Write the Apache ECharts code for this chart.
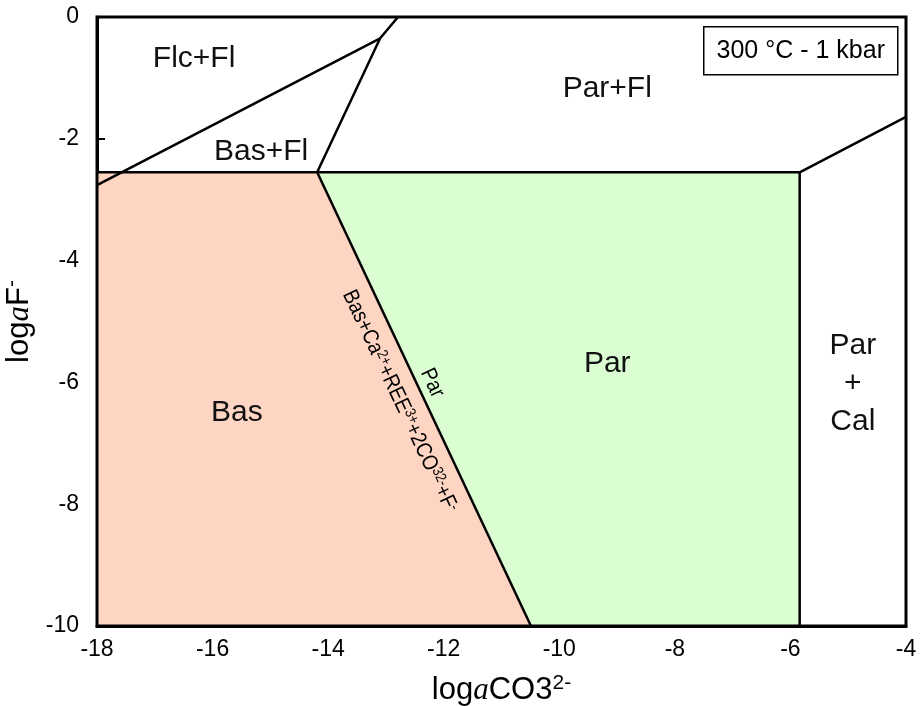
<!DOCTYPE html>
<html>
<head>
<meta charset="utf-8">
<script src="https://cdn.jsdelivr.net/npm/echarts@6/dist/echarts.min.js"></script>
<style>
  html, body { margin: 0; padding: 0; background: #fff; }
  #chart { width: 920px; height: 706px; }
</style>
</head>
<body>
<div id="chart"></div>
<script>
// Activity diagram: log aF- versus log aCO3(2-), 300 °C and 1 kbar

const xTicks = [-18, -16, -14, -12, -10, -8, -6, -4];
const yTicks = [0, -2, -4, -6, -8, -10];

// Stability fields (polygons in log-activity space)
const basField = [[-18, -2.55], [-14.19, -2.55], [-10.49, -10], [-18, -10]];
const parField = [[-14.19, -2.55], [-5.84, -2.55], [-5.84, -10], [-10.49, -10]];

// Phase boundaries
const fluoriteLine = [[-18, -2.55], [-5.84, -2.55]];
const parCalLine = [[-5.84, -10], [-5.84, -2.55], [-4, -1.64]];
const basParLine = [[-14.19, -2.55], [-10.49, -10]];
const basFlParFlLine = [[-14.19, -2.55], [-13.10, -0.35], [-12.79, 0]];
const flcBasLine = [[-18, -2.76], [-13.10, -0.35]];

// Field names and where they sit
const fieldNames = ['Flc+Fl', 'Bas+Fl', 'Par+Fl', 'Par', 'Bas', 'Par\n+\nCal'];
const fieldLabelAt = [[-16.32, -0.69], [-15.16, -2.22], [-9.17, -1.18], [-9.17, -5.70], [-15.58, -6.50], [-4.92, -6.03]];

// Reaction written along the Bas / Par boundary
const reactionLeft = '{n|Bas+Ca}{s|2+}{n|+REE}{s|3+}{n|+2CO}{s|32-}{n|+F}{s|-}';
const reactionRight = '{n|Par}';
const reactionLeftAt = [-12.76, -6.31];
const reactionRightAt = [-12.20, -6.01];

const FONT = '"Liberation Sans", Arial, sans-serif';

function polygonSeries(points, color) {
  return {
    type: 'custom',
    coordinateSystem: 'cartesian2d',
    data: [0],
    silent: true,
    z: 1,
    renderItem: function (params, api) {
      return {
        type: 'polygon',
        shape: { points: points.map(p => api.coord(p)) },
        style: { fill: color, stroke: null }
      };
    }
  };
}

function lineSeries(points) {
  return {
    type: 'line',
    data: points,
    symbol: 'none',
    silent: true,
    z: 3,
    lineStyle: { color: '#000', width: 2.5 }
  };
}

const titleRich = {
  t: { fontFamily: FONT, fontSize: 31, color: '#000', lineHeight: 35 },
  i: { fontFamily: '"Liberation Serif", "Times New Roman", serif', fontStyle: 'italic', fontSize: 31, color: '#000', lineHeight: 35 },
  sup: { fontFamily: FONT, fontSize: 21, color: '#000', lineHeight: 22, verticalAlign: 'top' }
};

const chart = echarts.init(document.getElementById('chart'), null, { renderer: 'canvas' });

const option = {
  animation: false,
  backgroundColor: '#fff',
  grid: {
    left: 97, right: 14, top: 17, bottom: 80,
    outerBoundsMode: 'none', containLabel: false,
    show: true, borderColor: '#000', borderWidth: 3, backgroundColor: 'transparent', z: 10
  },
  xAxis: {
    type: 'value', min: -18, max: -4, interval: 2,
    name: '{t|log}{i|a}{t|CO3}{sup|2-}',
    nameLocation: 'middle', nameGap: 47,
    nameTextStyle: { rich: titleRich },
    axisLine: { onZero: false, lineStyle: { color: '#000', width: 3 } },
    axisTick: { inside: true, length: 8, lineStyle: { color: '#000', width: 2 } },
    axisLabel: {
      margin: 12, color: '#000', fontFamily: FONT, fontSize: 23,
      formatter: v => (xTicks.includes(v) ? String(v) : '')
    },
    splitLine: { show: false }
  },
  yAxis: {
    type: 'value', min: -10, max: 0, interval: 2,
    name: '{t|log}{i|a}{t|F}{sup|-}',
    nameLocation: 'middle', nameGap: 58, nameRotate: 90,
    nameTextStyle: { rich: titleRich },
    axisLine: { onZero: false, lineStyle: { color: '#000', width: 3 } },
    axisTick: { inside: true, length: 8, lineStyle: { color: '#000', width: 2 } },
    axisLabel: {
      margin: 18, color: '#000', fontFamily: FONT, fontSize: 23,
      formatter: v => (yTicks.includes(v) ? String(v) : '')
    },
    splitLine: { show: false }
  },
  graphic: [{
    type: 'group', left: 703, top: 26, z: 20,
    children: [
      { type: 'rect', shape: { x: 0, y: 0, width: 194, height: 48 }, style: { fill: '#fff', stroke: '#000', lineWidth: 1.5 } },
      { type: 'text', x: 97, y: 24, style: { text: '300 °C - 1 kbar', font: '25px ' + FONT, fill: '#000', align: 'center', verticalAlign: 'middle' } }
    ]
  }],
  series: [
    polygonSeries(basField, '#FED5C3'),
    polygonSeries(parField, '#DAFDD2'),
    lineSeries(fluoriteLine),
    lineSeries(parCalLine),
    lineSeries(basParLine),
    lineSeries(basFlParFlLine),
    lineSeries(flcBasLine),
    {
      // field names
      type: 'custom',
      coordinateSystem: 'cartesian2d',
      data: fieldLabelAt.map((p, i) => [p[0], p[1], i]),
      silent: true,
      z: 5,
      renderItem: function (params, api) {
        const pt = api.coord([api.value(0), api.value(1)]);
        return {
          type: 'text',
          x: pt[0], y: pt[1],
          style: {
            text: fieldNames[api.value(2)],
            font: '30px ' + FONT, fill: '#111',
            align: 'center', verticalAlign: 'middle', lineHeight: 38
          }
        };
      }
    },
    {
      // reaction text parallel to the Bas / Par boundary, set in a condensed width
      type: 'custom',
      coordinateSystem: 'cartesian2d',
      data: [[reactionLeftAt[0], reactionLeftAt[1], 0], [reactionRightAt[0], reactionRightAt[1], 1]],
      silent: true,
      z: 5,
      renderItem: function (params, api) {
        const a = api.coord(basParLine[0]);
        const b = api.coord(basParLine[1]);
        const angle = -Math.atan2(b[1] - a[1], b[0] - a[0]);
        const pt = api.coord([api.value(0), api.value(1)]);
        return {
          type: 'text',
          x: pt[0], y: pt[1],
          rotation: angle,
          scaleX: 0.86,
          style: {
            text: api.value(2) === 0 ? reactionLeft : reactionRight,
            align: 'center', verticalAlign: 'middle',
            rich: {
              n: { fontFamily: FONT, fontSize: 22, fill: '#000', lineHeight: 23 },
              s: { fontFamily: FONT, fontSize: 15, fill: '#000', lineHeight: 15, verticalAlign: 'top' }
            }
          }
        };
      }
    }
  ]
};

chart.setOption(option);
</script>
</body>
</html>
